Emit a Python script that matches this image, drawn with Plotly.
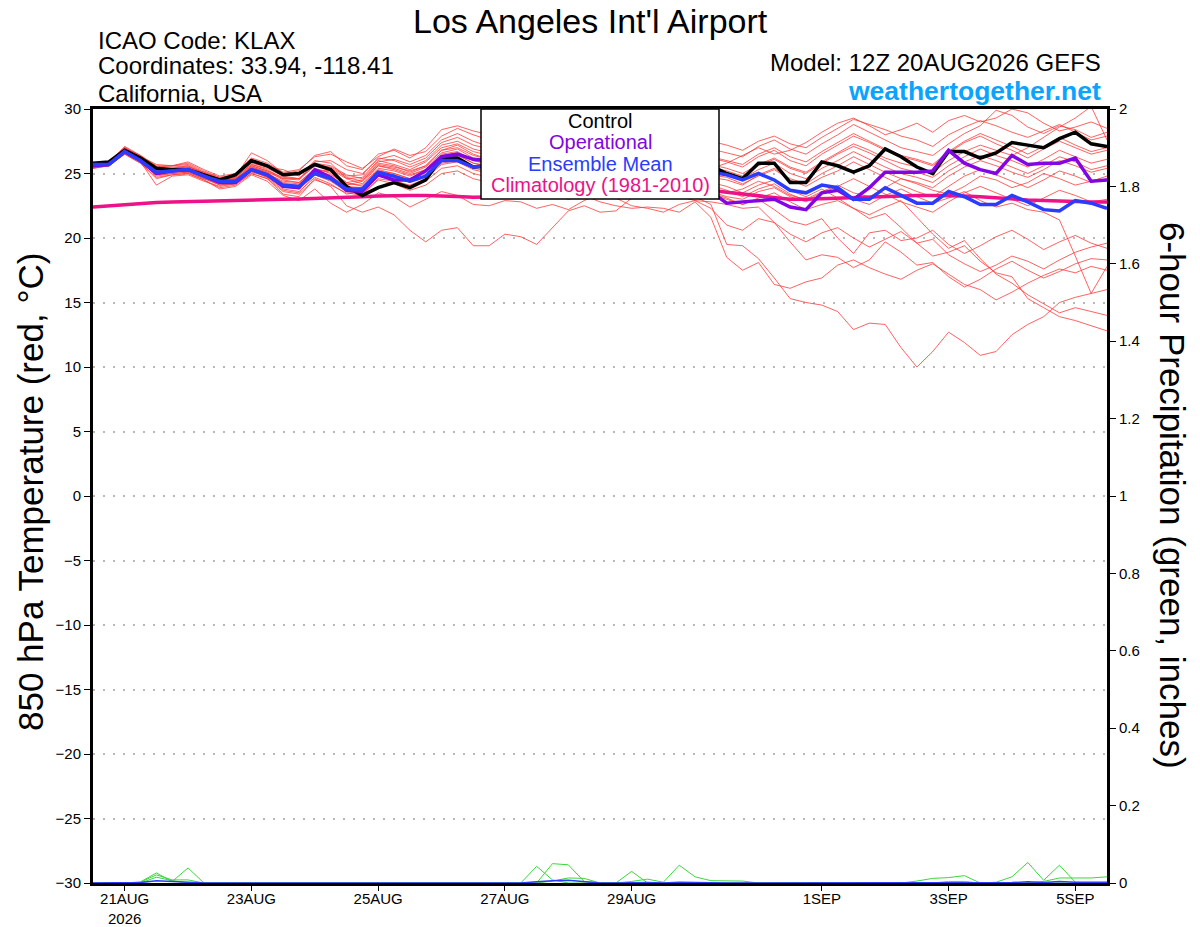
import pandas as pd
import plotly.graph_objects as go

# 6-hourly valid times, 12Z 20AUG2026 .. 12Z 5SEP2026 (65 steps)
times = pd.date_range("2026-08-20 12:00", periods=65, freq="6h")

# ---- 850 hPa temperature (C) -------------------------------------------------
control = [25.8, 25.9, 26.8, 26.2, 25.4, 25.3, 25.3, 24.9, 24.5, 24.9, 26.0, 25.6, 24.9, 25.0, 25.7, 25.3,
           24.0, 23.3, 23.9, 24.3, 23.9, 24.5, 26.2, 26.2, 25.5, 25.6, 25.2, 25.8, 26.3, 26.0, 25.4, 25.0,
           25.5, 26.1, 25.8, 25.3, 25.6, 26.0, 25.7, 25.6, 25.0, 24.6, 25.8, 25.8, 24.3, 24.3, 25.9, 25.6,
           25.1, 25.6, 26.9, 26.3, 25.5, 25.0, 26.7, 26.7, 26.2, 26.6, 27.4, 27.2, 27.0, 27.7, 28.2, 27.3, 27.1]
operational = [25.6, 25.7, 26.7, 26.0, 25.0, 25.2, 25.3, 24.8, 24.3, 24.3, 25.3, 24.9, 24.0, 23.9, 25.3, 24.7,
               23.7, 23.6, 24.9, 24.5, 24.5, 25.2, 26.3, 26.5, 26.1, 26.0, 25.7, 25.5, 25.6, 25.3, 25.0, 24.8,
               25.0, 24.7, 24.4, 24.5, 24.2, 24.0, 23.9, 23.6, 22.7, 22.8, 22.9, 23.0, 22.4, 22.2, 23.5, 23.7,
               23.0, 23.9, 25.1, 25.1, 25.1, 25.2, 26.8, 25.8, 25.3, 25.0, 26.4, 25.7, 25.8, 25.8, 26.2, 24.4, 24.5]
ens_mean = [25.7, 25.7, 26.7, 26.0, 25.1, 25.2, 25.3, 24.8, 24.4, 24.4, 25.3, 24.9, 24.1, 24.0, 25.0, 24.6,
            23.8, 23.8, 25.1, 24.8, 24.4, 24.8, 26.0, 26.0, 25.5, 25.6, 25.3, 25.5, 25.8, 25.5, 25.2, 25.0,
            25.3, 25.6, 25.4, 25.1, 25.3, 25.5, 25.3, 25.1, 24.9, 24.5, 25.0, 24.5, 23.7, 23.5, 24.1, 23.9,
            23.0, 23.0, 23.9, 23.3, 22.7, 22.7, 23.6, 23.2, 22.6, 22.6, 23.3, 22.8, 22.2, 22.1, 22.9, 22.7, 22.3]
climatology = [22.4, 22.5, 22.6, 22.7, 22.75, 22.8, 22.82, 22.85, 22.88, 22.9, 22.93, 22.96, 23.0, 23.03, 23.06, 23.1,
               23.15, 23.2, 23.25, 23.3, 23.3, 23.3, 23.28, 23.22, 23.15, 23.15, 23.2, 23.25, 23.3, 23.35, 23.4, 23.45,
               23.5, 23.55, 23.6, 23.65, 23.7, 23.72, 23.72, 23.7, 23.55, 23.4, 23.25, 23.1, 23.0, 23.0, 23.05, 23.1,
               23.15, 23.2, 23.25, 23.28, 23.3, 23.3, 23.3, 23.25, 23.2, 23.1, 23.0, 22.95, 22.9, 22.85, 22.82, 22.8, 22.8]

mem01 = [25.6, 25.8, 27.0, 26.3, 25.5, 25.5, 25.6, 25.0, 24.6, 24.8, 26.6, 26.0, 25.0, 25.2, 26.4, 26.7,
         25.6, 25.3, 26.5, 26.8, 26.2, 27.0, 28.4, 28.7, 28.3, 28.0, 27.6, 28.2, 28.9, 28.4, 27.9, 27.5,
         28.1, 28.6, 28.0, 27.4, 27.8, 28.3, 27.9, 27.5, 27.2, 26.8, 27.5, 27.9, 27.3, 27.0, 27.8, 28.5,
         29.2, 28.8, 28.4, 27.9, 27.6, 27.1, 28.0, 28.6, 29.1, 28.7, 28.2, 27.8, 28.3, 28.8, 28.2, 27.6, 27.9]
mem02 = [25.5, 25.6, 26.6, 25.9, 24.1, 24.8, 24.9, 24.4, 24.0, 24.2, 25.0, 24.6, 23.4, 23.2, 24.6, 24.0,
         22.5, 22.0, 22.4, 21.8, 20.6, 19.7, 20.6, 20.8, 19.4, 19.4, 20.3, 20.1, 19.5, 20.8, 22.1, 22.5,
         22.0, 22.1, 23.1, 23.8, 24.2, 24.0, 23.6, 23.9, 23.5, 23.8, 24.4, 24.0, 23.3, 23.0, 23.6, 24.1,
         23.5, 23.2, 23.9, 24.6, 24.2, 23.7, 23.4, 24.0, 24.8, 24.5, 23.9, 24.3, 25.0, 24.6, 24.1, 24.4, 24.8]
mem03 = [25.4, 25.6, 26.5, 25.8, 24.6, 24.9, 25.0, 24.5, 23.8, 24.0, 24.9, 24.4, 23.3, 22.9, 23.8, 22.7,
         22.0, 22.6, 23.5, 23.2, 22.4, 23.0, 23.6, 23.3, 22.6, 22.5, 22.9, 22.8, 22.3, 22.6, 22.2, 22.9,
         23.4, 23.1, 22.5, 22.3, 22.0, 22.6, 22.9, 22.3, 21.0, 20.6, 21.5, 21.2, 20.3, 19.7, 20.4, 20.8,
         20.0, 19.3, 19.9, 20.5, 19.6, 18.6, 18.9, 19.4, 18.2, 17.3, 17.0, 15.3, 14.6, 13.9, 13.6, 13.2, 12.8]
mem04 = [25.6, 25.7, 26.7, 26.0, 24.8, 25.0, 25.1, 24.6, 24.1, 24.2, 25.2, 24.7, 23.7, 23.5, 24.9, 24.4,
         23.6, 23.4, 24.5, 24.2, 23.7, 24.1, 25.0, 25.2, 24.6, 24.3, 23.9, 24.2, 23.8, 23.4, 23.0, 23.3,
         22.8, 22.5, 22.3, 22.4, 22.3, 22.0, 22.8, 21.6, 18.5, 17.5, 18.1, 16.4, 16.1, 16.6, 16.9, 17.9,
         18.3, 17.7, 17.2, 16.8, 17.5, 18.0, 17.2, 16.4, 16.0, 15.2, 15.8, 16.5, 17.1, 17.6, 17.3, 17.8, 17.5]
mem05 = [25.7, 25.8, 26.9, 26.2, 25.4, 25.3, 25.4, 24.9, 24.5, 24.6, 25.4, 25.0, 24.3, 24.2, 25.3, 25.1,
         24.3, 24.0, 25.3, 25.0, 24.6, 25.2, 26.3, 26.5, 25.8, 25.6, 25.2, 25.7, 26.1, 25.6, 25.1, 24.8,
         25.2, 25.6, 24.9, 24.3, 24.0, 23.6, 23.2, 22.6, 19.5, 19.4, 18.4, 16.9, 15.3, 15.0, 14.8, 14.3,
         12.9, 13.4, 13.3, 11.5, 10.0, 11.2, 12.7, 11.9, 10.9, 11.2, 12.5, 13.3, 13.9, 15.0, 15.4, 15.7, 16.0]
mem06 = [25.5, 25.6, 26.6, 25.9, 24.9, 25.1, 25.2, 24.7, 24.1, 24.3, 25.1, 24.8, 23.8, 23.6, 24.7, 24.2,
         23.4, 23.6, 24.8, 24.5, 24.0, 24.4, 25.4, 25.6, 25.0, 24.7, 24.3, 24.8, 25.3, 24.9, 24.4, 24.0,
         24.5, 24.8, 24.3, 23.8, 23.5, 23.2, 22.9, 22.8, 22.6, 22.3, 22.4, 21.2, 19.7, 18.3, 18.7, 18.5,
         17.7, 18.3, 19.7, 18.9, 17.9, 18.1, 17.0, 16.2, 16.8, 17.6, 18.2, 17.5, 16.9, 17.4, 18.0, 18.4, 18.3]
mem07 = [25.8, 25.9, 27.1, 26.4, 25.6, 25.6, 25.8, 25.2, 24.7, 24.9, 25.8, 25.5, 25.3, 24.8, 26.0, 25.8,
         24.6, 24.2, 25.6, 25.4, 25.0, 25.5, 26.6, 26.9, 26.2, 25.9, 25.5, 26.0, 26.4, 25.9, 25.4, 25.1,
         25.5, 25.9, 25.3, 24.8, 24.5, 24.1, 23.8, 23.5, 23.1, 22.6, 23.0, 22.2, 21.3, 21.0, 21.5, 20.0,
         18.8, 20.4, 20.6, 19.8, 20.0, 20.6, 19.5, 18.8, 19.4, 20.1, 20.6, 19.9, 19.1, 19.7, 20.2, 19.6, 19.2]
mem08 = [25.6, 25.7, 26.8, 26.1, 25.3, 25.4, 25.5, 25.0, 24.3, 24.5, 25.6, 25.2, 24.5, 24.3, 25.4, 25.0,
         24.1, 24.4, 25.6, 25.3, 24.9, 25.3, 26.4, 26.6, 26.0, 25.8, 25.4, 25.9, 26.3, 25.8, 25.3, 25.0,
         25.4, 25.8, 25.2, 24.7, 24.4, 24.1, 23.8, 23.4, 23.0, 22.6, 23.1, 23.5, 22.8, 22.2, 22.6, 22.9,
         22.3, 21.8, 22.4, 22.9, 21.6, 20.3, 19.2, 19.8, 18.4, 17.2, 16.5, 15.6, 14.9, 14.2, 14.6, 14.3, 14.0]
mem09 = [25.7, 25.7, 26.7, 26.0, 25.0, 25.2, 25.3, 24.8, 24.3, 24.3, 25.3, 24.9, 24.0, 23.9, 25.0, 24.6,
         23.9, 23.8, 25.1, 24.8, 24.4, 24.8, 26.0, 26.1, 25.5, 25.4, 25.1, 25.5, 25.9, 25.5, 25.1, 24.8,
         25.2, 25.5, 25.0, 24.6, 24.3, 24.0, 23.8, 23.6, 23.2, 23.0, 23.6, 23.9, 23.2, 22.8, 23.4, 23.8,
         23.0, 22.6, 23.3, 23.8, 23.2, 22.7, 23.1, 23.6, 22.9, 22.4, 22.7, 22.2, 22.0, 21.4, 18.6, 15.7, 17.8]
mem10 = [25.6, 25.8, 26.9, 26.3, 25.7, 25.6, 25.9, 25.3, 24.8, 25.0, 26.2, 25.8, 25.1, 25.3, 26.3, 26.5,
         25.9, 25.4, 26.3, 26.9, 26.4, 26.7, 27.9, 28.5, 28.0, 27.6, 27.2, 27.8, 28.3, 27.7, 27.3, 27.0,
         27.6, 28.0, 27.4, 26.9, 27.3, 27.7, 27.2, 26.9, 26.6, 26.3, 27.1, 27.6, 26.9, 26.5, 27.3, 28.0,
         28.8, 28.2, 27.6, 27.0, 26.7, 26.4, 27.3, 28.1, 28.7, 29.9, 29.5, 28.6, 28.1, 28.7, 28.4, 27.8, 28.2]
mem11 = [25.7, 25.8, 27.0, 26.2, 25.4, 25.4, 25.5, 25.1, 24.6, 24.7, 25.7, 25.4, 24.8, 24.6, 25.8, 25.6,
         24.9, 24.6, 25.9, 26.1, 25.7, 26.2, 27.4, 27.8, 27.2, 26.9, 26.6, 27.1, 27.5, 27.0, 26.6, 26.3,
         26.8, 27.2, 26.7, 26.2, 26.6, 27.0, 26.5, 26.2, 25.9, 25.5, 26.3, 26.8, 26.0, 25.6, 26.5, 27.2,
         27.9, 27.4, 26.8, 26.3, 26.0, 25.6, 26.6, 27.4, 27.9, 27.3, 26.8, 26.2, 26.9, 27.5, 27.0, 26.5, 26.8]
mem12 = [25.5, 25.7, 26.7, 26.0, 25.2, 25.3, 25.4, 24.9, 24.4, 24.6, 25.5, 25.1, 24.6, 24.5, 25.6, 25.3,
         24.6, 24.7, 26.0, 25.7, 25.3, 25.9, 27.0, 27.3, 26.7, 26.4, 26.0, 26.5, 27.0, 26.5, 26.0, 25.7,
         26.2, 26.6, 26.0, 25.5, 25.9, 26.3, 25.8, 25.5, 25.2, 24.8, 25.6, 26.1, 25.4, 25.0, 25.8, 26.5,
         27.1, 26.6, 26.0, 25.4, 25.1, 24.7, 25.6, 26.3, 26.9, 26.4, 26.0, 25.5, 26.1, 26.8, 26.3, 25.8, 26.1]
mem13 = [25.6, 25.7, 26.8, 26.1, 25.2, 25.3, 25.4, 24.9, 24.4, 24.5, 25.4, 25.0, 24.4, 24.3, 25.3, 25.2,
         24.3, 24.5, 25.7, 25.5, 25.2, 25.6, 26.8, 27.2, 26.5, 26.1, 25.8, 26.3, 26.7, 26.2, 25.8, 25.4,
         25.9, 26.4, 25.8, 25.3, 25.7, 26.1, 25.6, 25.4, 25.8, 26.4, 27.0, 26.5, 26.8, 27.4, 28.2, 28.9,
         29.3, 28.7, 28.0, 28.4, 28.9, 28.2, 29.1, 29.5, 29.0, 29.3, 30.0, 29.7, 28.9, 28.3, 28.6, 29.0, 28.5]
mem14 = [25.4, 25.6, 26.6, 25.9, 24.9, 25.0, 25.1, 24.6, 24.2, 24.3, 25.2, 24.7, 24.0, 24.0, 25.1, 24.8,
         24.0, 23.9, 25.2, 25.0, 24.6, 25.1, 26.2, 26.4, 25.8, 25.5, 25.1, 25.6, 26.0, 25.6, 25.2, 24.9,
         25.3, 25.6, 25.1, 24.7, 25.0, 25.4, 25.0, 24.7, 24.5, 24.1, 24.9, 25.4, 24.6, 24.2, 25.0, 25.6,
         26.3, 25.7, 25.1, 24.6, 24.3, 23.9, 24.8, 25.5, 26.0, 25.6, 25.1, 24.7, 25.3, 26.0, 25.6, 25.1, 25.4]
mem15 = [25.7, 25.8, 26.8, 26.1, 25.3, 25.2, 25.3, 24.8, 24.4, 24.5, 25.5, 25.1, 24.2, 24.1, 25.2, 24.9,
         24.2, 24.1, 25.4, 25.2, 24.8, 25.3, 26.5, 26.7, 26.0, 25.7, 25.3, 25.8, 26.2, 25.8, 25.3, 25.0,
         25.5, 25.9, 25.4, 24.9, 25.3, 25.7, 25.2, 24.9, 24.7, 24.2, 24.8, 25.3, 24.5, 24.0, 24.7, 25.2,
         25.9, 25.3, 24.7, 24.1, 23.6, 23.2, 24.0, 24.8, 25.3, 24.9, 24.4, 23.9, 24.5, 25.2, 24.8, 24.3, 24.6]
mem16 = [25.6, 25.7, 26.7, 26.0, 25.1, 25.3, 25.4, 24.9, 24.5, 24.6, 25.6, 25.2, 24.7, 24.6, 25.7, 25.5,
         24.8, 24.9, 26.2, 26.0, 25.5, 26.0, 27.2, 27.5, 26.9, 26.6, 26.2, 26.7, 27.2, 26.7, 26.3, 25.9,
         26.4, 26.8, 26.3, 25.8, 26.2, 26.6, 26.1, 25.7, 25.4, 25.0, 25.7, 26.2, 25.5, 25.1, 25.9, 26.6,
         27.3, 26.8, 26.2, 25.8, 25.5, 25.1, 26.0, 26.7, 27.2, 26.8, 26.4, 27.0, 27.8, 28.6, 29.3, 30.2, 27.6]
mem17 = [25.5, 25.6, 26.5, 25.8, 24.7, 24.9, 25.0, 24.5, 23.9, 24.1, 25.0, 24.6, 23.6, 23.4, 24.5, 24.1,
         23.5, 23.3, 24.6, 24.4, 24.1, 24.6, 25.7, 25.9, 25.3, 25.0, 24.7, 25.1, 25.5, 25.1, 24.7, 24.4,
         24.8, 25.1, 24.6, 24.2, 24.5, 24.8, 24.4, 24.1, 23.7, 23.2, 23.8, 24.2, 23.4, 22.9, 23.5, 24.0,
         24.6, 24.0, 23.4, 22.8, 22.4, 22.0, 22.8, 23.5, 24.0, 23.5, 23.0, 22.5, 23.1, 23.7, 23.3, 22.8, 23.0]
mem18 = [25.8, 25.9, 27.0, 26.4, 25.5, 25.6, 25.7, 25.1, 24.7, 24.8, 25.9, 25.5, 24.9, 24.9, 25.9, 26.0,
         25.3, 25.0, 26.1, 26.4, 25.9, 26.4, 27.6, 28.1, 27.5, 27.1, 26.7, 27.2, 27.7, 27.2, 26.8, 26.4,
         26.9, 27.4, 26.8, 26.3, 26.7, 27.1, 26.6, 26.3, 26.0, 25.7, 26.5, 27.0, 26.3, 25.9, 26.7, 27.4,
         28.1, 27.5, 26.9, 26.4, 26.1, 25.7, 26.7, 27.5, 28.1, 27.6, 27.1, 26.5, 27.1, 27.8, 27.2, 26.7, 27.0]
mem19 = [25.6, 25.7, 26.8, 26.1, 25.0, 25.2, 25.3, 24.8, 24.3, 24.4, 25.3, 24.9, 24.0, 23.8, 24.9, 24.5,
         23.7, 23.6, 24.9, 24.7, 24.3, 24.7, 25.8, 26.0, 25.4, 25.2, 24.9, 25.3, 25.7, 25.3, 24.9, 24.6,
         25.0, 25.3, 24.8, 24.4, 24.7, 25.0, 24.6, 24.3, 24.0, 23.5, 24.1, 24.5, 23.7, 23.2, 23.8, 23.1,
         22.3, 21.5, 21.9, 20.8, 19.6, 19.9, 18.7, 18.0, 17.4, 17.9, 18.6, 18.2, 17.6, 18.3, 18.9, 19.3, 19.6]
mem20 = [25.7, 25.8, 26.9, 26.2, 25.3, 25.4, 25.6, 25.0, 24.5, 24.7, 25.7, 25.3, 24.6, 24.6, 25.6, 25.4,
         24.7, 24.4, 25.8, 25.6, 25.1, 25.6, 26.8, 27.0, 26.4, 26.1, 25.7, 26.2, 26.6, 26.2, 25.7, 25.4,
         25.8, 26.2, 25.7, 25.2, 25.6, 26.0, 25.6, 25.2, 24.9, 24.6, 25.3, 25.8, 25.0, 24.6, 25.4, 26.0,
         26.7, 26.1, 25.5, 25.0, 24.7, 24.3, 25.2, 25.9, 26.4, 26.0, 25.5, 25.0, 25.6, 26.3, 25.9, 25.3, 25.6]
members = [mem01, mem02, mem03, mem04, mem05, mem06, mem07, mem08, mem09, mem10,
           mem11, mem12, mem13, mem14, mem15, mem16, mem17, mem18, mem19, mem20]

# ---- 6-hour precipitation (inches) -------------------------------------------
pcp01 = [0, 0, 0, 0.003, 0.026, 0.004, 0.039, 0, 0, 0, 0, 0, 0, 0, 0, 0,
         0, 0, 0, 0, 0, 0, 0, 0, 0, 0, 0, 0, 0.043, 0.008, 0, 0,
         0, 0, 0.030, 0, 0, 0, 0, 0, 0, 0, 0, 0, 0, 0, 0, 0,
         0, 0, 0, 0, 0.005, 0.012, 0.014, 0.019, 0, 0, 0, 0, 0, 0, 0, 0, 0]
pcp02 = [0, 0, 0, 0.002, 0.021, 0.008, 0.008, 0, 0, 0, 0, 0, 0, 0, 0, 0,
         0, 0, 0, 0, 0, 0, 0, 0, 0, 0, 0, 0, 0, 0.050, 0.047, 0.004,
         0, 0, 0.004, 0.010, 0.002, 0.046, 0.016, 0.006, 0.005, 0.005, 0, 0, 0, 0, 0, 0,
         0, 0, 0, 0, 0, 0, 0, 0, 0, 0.002, 0.016, 0.053, 0.007, 0.046, 0.002, 0, 0]
pcp03 = [0, 0, 0, 0, 0.015, 0.006, 0, 0, 0, 0, 0, 0, 0, 0, 0, 0,
         0, 0, 0, 0, 0, 0, 0, 0, 0, 0, 0, 0, 0, 0.005, 0.013, 0.012,
         0, 0, 0, 0, 0, 0, 0, 0, 0, 0, 0, 0, 0, 0, 0, 0,
         0, 0, 0, 0, 0, 0, 0.004, 0.004, 0, 0, 0, 0, 0.004, 0.013, 0.013, 0.013, 0.016]
pcp_mean = [0, 0, 0, 0.001, 0.006, 0.004, 0.003, 0, 0, 0, 0, 0, 0, 0, 0, 0,
            0, 0, 0, 0, 0, 0, 0, 0, 0, 0, 0, 0, 0.003, 0.006, 0.007, 0.003,
            0, 0, 0.001, 0.001, 0, 0.002, 0.001, 0, 0, 0, 0, 0, 0, 0, 0, 0,
            0, 0, 0, 0, 0, 0, 0.001, 0.001, 0, 0, 0.001, 0.003, 0.001, 0.004, 0.002, 0.002, 0.002]
precip_members = [pcp01, pcp02, pcp03]

tick_dates = ["2026-08-21", "2026-08-23", "2026-08-25", "2026-08-27",
              "2026-08-29", "2026-09-01", "2026-09-03", "2026-09-05"]
tick_text = ["21AUG<br>2026", "23AUG", "25AUG", "27AUG", "29AUG", "1SEP", "3SEP", "5SEP"]

legend_labels = ["Control", "Operational", "Ensemble Mean", "Climatology (1981-2010)"]

RED = "rgba(255,55,55,0.78)"
GREEN = "#3ad83a"
BLACK = "#000000"
PURPLE = "#8206e3"
BLUE = "#2a3cff"
PINK = "#ee1188"
FONT = "Liberation Sans, Arial, sans-serif"

fig = go.Figure()

for m in members:
    fig.add_trace(go.Scatter(x=times, y=m, mode="lines", line=dict(color=RED, width=1),
                             hoverinfo="skip"))
for p in precip_members:
    fig.add_trace(go.Scatter(x=times, y=p, mode="lines", yaxis="y2",
                             line=dict(color=GREEN, width=1), hoverinfo="skip"))
fig.add_trace(go.Scatter(x=times, y=pcp_mean, mode="lines", yaxis="y2",
                         line=dict(color=BLUE, width=1.5), hoverinfo="skip"))

fig.add_trace(go.Scatter(x=times, y=climatology, mode="lines", line=dict(color=PINK, width=3.5)))
fig.add_trace(go.Scatter(x=times, y=control, mode="lines", line=dict(color=BLACK, width=3.5)))
fig.add_trace(go.Scatter(x=times, y=operational, mode="lines", line=dict(color=PURPLE, width=3.5)))
fig.add_trace(go.Scatter(x=times, y=ens_mean, mode="lines", line=dict(color=BLUE, width=3.5)))

# plot area in pixels: x 93..1107, y 109..883
L, R, T, B = 93, 1107, 109, 883
W, H = 1200, 927


def px(xp):
    return (xp - L) / (R - L)


def py(yp):
    return (B - yp) / (B - T)


ann = [
    dict(text="Los Angeles Int'l Airport", x=px(590), y=py(21), font=dict(size=34)),
    dict(text="ICAO Code: KLAX", x=px(97), y=py(40), xanchor="left", font=dict(size=24)),
    dict(text="Coordinates: 33.94, -118.41", x=px(97), y=py(66), xanchor="left", font=dict(size=24)),
    dict(text="California, USA", x=px(97), y=py(93), xanchor="left", font=dict(size=24)),
    dict(text="Model: 12Z 20AUG2026 GEFS", x=px(1102), y=py(62), xanchor="right", font=dict(size=24)),
    dict(text="<b>weathertogether.net</b>", x=px(1102), y=py(91), xanchor="right",
         font=dict(size=26.5, color="#0aa3ff")),
    dict(text="850 hPa Temperature (red, °C)", x=px(31), y=py(492), textangle=-90,
         font=dict(size=35)),
    dict(text="6-hour Precipitation (green, inches)", x=px(1172), y=py(495), textangle=90,
         font=dict(size=35)),
]
legend_colors = [BLACK, PURPLE, BLUE, PINK]
for i, (lab, col) in enumerate(zip(legend_labels, legend_colors)):
    ann.append(dict(text=lab, x=px(600), y=py(121 + 21.3 * i), font=dict(size=20, color=col)))

for a in ann:
    a.setdefault("xanchor", "center")
    a.setdefault("yanchor", "middle")
    a.update(xref="paper", yref="paper", showarrow=False, borderpad=0)
    a["font"].setdefault("color", "black")
    a["font"]["family"] = FONT

legend_box = dict(type="rect", xref="paper", yref="paper", layer="above",
                  x0=px(481), x1=px(719), y0=py(199), y1=py(T),
                  fillcolor="white", line=dict(color="black", width=1.5))

fig.update_layout(
    width=W, height=H,
    margin=dict(l=L, r=W - R, t=T, b=H - B),
    paper_bgcolor="white", plot_bgcolor="white",
    showlegend=False,
    font=dict(family=FONT, color="black"),
    annotations=ann,
    shapes=[legend_box],
    xaxis=dict(
        type="date", range=[times[0], times[-1]],
        tickvals=tick_dates, ticktext=tick_text,
        ticks="outside", ticklen=5, tickwidth=1, tickcolor="black",
        tickfont=dict(size=15), automargin=False, ticklabelstandoff=-5,
        showgrid=False, zeroline=False,
        showline=True, linewidth=3, linecolor="black", mirror=True,
    ),
    yaxis=dict(
        range=[-30, 30], dtick=5, tick0=0, automargin=False,
        ticks="outside", ticklen=6, tickcolor="black", tickfont=dict(size=15),
        showgrid=True, gridcolor="#b8b8b8", gridwidth=1.5, griddash="2px,8px",
        zeroline=False,
        showline=True, linewidth=3, linecolor="black", mirror=True,
    ),
    yaxis2=dict(
        range=[0, 2], dtick=0.2, tick0=0, overlaying="y", side="right", automargin=False,
        ticks="outside", ticklen=6, tickcolor="black", tickfont=dict(size=15),
        showgrid=False, zeroline=False,
        showline=True, linewidth=3, linecolor="black",
    ),
)

# the page body has a default 8px margin; drop it so the figure fills the window
fig.write_html("out.html", config={"displayModeBar": False},
               post_script="document.body.style.margin='0';"
                           "document.body.style.overflow='hidden';")
